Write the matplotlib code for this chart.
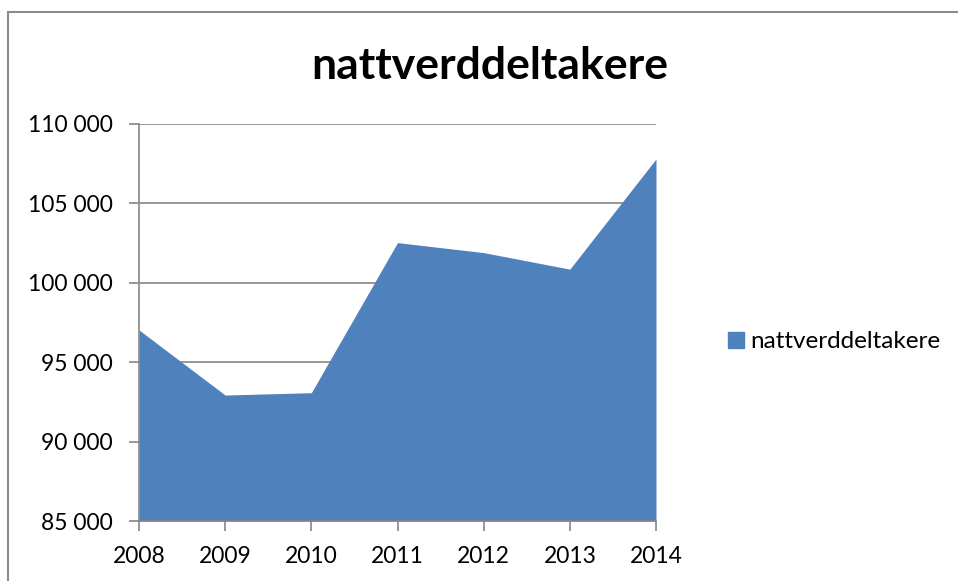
import matplotlib
matplotlib.use("Agg")
import matplotlib.pyplot as plt
from matplotlib.patches import Rectangle, Patch
from matplotlib.ticker import FuncFormatter

years = [2008, 2009, 2010, 2011, 2012, 2013, 2014]
values = [97030, 92930, 93080, 102530, 101900, 100860, 107800]
series_name = "nattverddeltakere"
title = "nattverddeltakere"

plt.rcParams['font.family'] = ['Lato', 'DejaVu Sans']

fig = plt.figure(figsize=(9.58, 5.81), dpi=100)
fig.patches.append(Rectangle((8/958, -0.1), 1.2, 1 - 12/581 + 0.1, transform=fig.transFigure,
                             fill=False, edgecolor='#8c8c8c', linewidth=1.5))

ax = fig.add_axes([139/958, 1 - 521/581, (656 - 139)/958, (521 - 124)/581])
ax.fill_between(years, values, 85000, color='#4F81BD', linewidth=0, label=series_name)
ax.set_xlim(years[0], years[-1])
ax.set_ylim(85000, 110000)
ax.set_yticks(range(85000, 110001, 5000))
ax.set_xticks(years)
ax.yaxis.set_major_formatter(FuncFormatter(lambda v, p: f"{int(v):,}".replace(",", " ")))
ax.grid(axis='y', color='#868686', linewidth=1.2)
ax.set_axisbelow(True)
for s in ['top', 'right']:
    ax.spines[s].set_visible(False)
for s in ['left', 'bottom']:
    ax.spines[s].set_color('#868686')
    ax.spines[s].set_linewidth(1.2)
ax.tick_params(axis='both', colors='#868686', labelcolor='black', labelsize=16.5, length=7, width=1.2)
ax.tick_params(axis='y', pad=12)
ax.tick_params(axis='x', pad=11)

fig.text(490/958, 1 - 66/581, title, ha='center', va='center', fontsize=32, fontweight='bold')
fig.legend(handles=[Patch(color='#4F81BD', label=series_name)], loc='center left',
           bbox_to_anchor=(706/958, 1 - 342/581), frameon=False, fontsize=17.5,
           handlelength=0.65, handleheight=0.65, handletextpad=0.25)

fig.savefig("out.png", dpi=100, facecolor='white')
